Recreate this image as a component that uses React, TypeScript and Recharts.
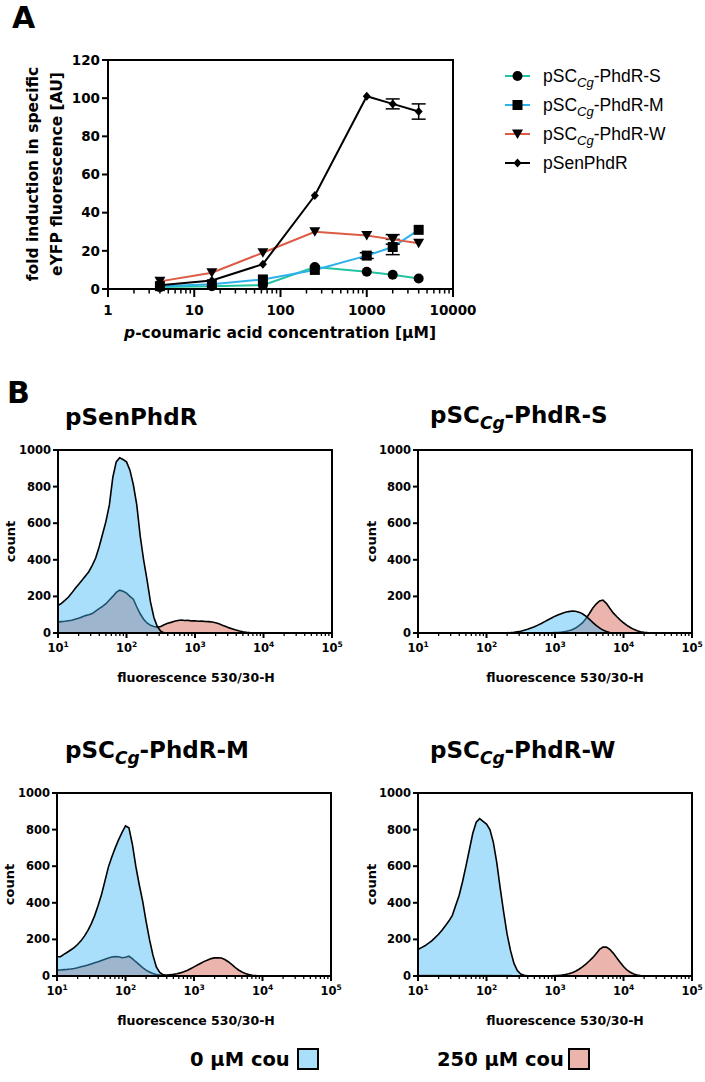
import React from 'react';
import { LineChart, Line, XAxis, YAxis, ErrorBar, AreaChart, Area, ReferenceArea } from 'recharts';

const BOLD = '"DejaVu Sans", "Liberation Sans", Arial, sans-serif';
const REG = '"Liberation Sans", Arial, sans-serif';

// ---------------- Panel A data ----------------
const concentrations = [4, 16, 62.5, 250, 1000, 2000, 4000];
const foldS = [1.0, 1.5, 2.0, 11.5, 9.0, 7.5, 5.5];
const foldM = [1.5, 2.5, 5.0, 10.0, 17.5, 22.0, 31.0];
const foldW = [4.0, 8.5, 19.0, 30.0, 28.0, 26.0, 24.0];
const foldSen = [2.0, 4.5, 13.0, 49.0, 101.0, 97.0, 93.0];
const errS = [0, 0, 0, 0, 0, 0, 0];
const errM = [0, 0, 0, 0, 1.5, 4.0, 0];
const errW = [0, 0, 0, 0, 0, 2.5, 0];
const errSen = [0, 0, 0, 0, 0, 2.6, 4.0];
const concMajorTicks = [1, 10, 100, 1000, 10000];
const concMinorTicks = [2, 3, 4, 5, 6, 7, 8, 9, 20, 30, 40, 50, 60, 70, 80, 90, 200, 300, 400, 500, 600, 700, 800, 900, 2000, 3000, 4000, 5000, 6000, 7000, 8000, 9000];
const foldTicks = [0, 20, 40, 60, 80, 100, 120];

const seriesA = [
  { key: 'S', err: 'Serr', color: '#22C3A0', shape: 'circle', prefix: 'pSC', sub: 'Cg', suffix: '-PhdR-S' },
  { key: 'M', err: 'Merr', color: '#2DB1EC', shape: 'square', prefix: 'pSC', sub: 'Cg', suffix: '-PhdR-M' },
  { key: 'W', err: 'Werr', color: '#DD5A45', shape: 'triangle', prefix: 'pSC', sub: 'Cg', suffix: '-PhdR-W' },
  { key: 'Sen', err: 'Senerr', color: '#000000', shape: 'diamond', prefix: 'pSenPhdR', sub: '', suffix: '' },
];

const lineData = concentrations.map((c, i) => ({
  conc: c,
  S: foldS[i], Serr: errS[i],
  M: foldM[i], Merr: errM[i],
  W: foldW[i], Werr: errW[i],
  Sen: foldSen[i], Senerr: errSen[i],
}));

// ---------------- Panel B data ----------------
const fluorBins = [
  10, 11.22, 12.59, 14.13, 15.85, 17.78, 19.95, 22.39, 25.12, 28.18,
  31.62, 35.48, 39.81, 44.67, 50.12, 56.23, 63.10, 70.79, 79.43, 89.13,
  100, 112.2, 125.9, 141.3, 158.5, 177.8, 199.5, 223.9, 251.2, 281.8,
  316.2, 354.8, 398.1, 446.7, 501.2, 562.3, 631.0, 707.9, 794.3, 891.3,
  1000, 1122, 1259, 1413, 1585, 1778, 1995, 2239, 2512, 2818,
  3162, 3548, 3981, 4467, 5012, 5623, 6310, 7079, 7943, 8913,
  10000, 11220, 12590, 14130, 15850, 17780, 19950, 22390, 25120, 28180,
  31620, 35480, 39810, 44670, 50120, 56230, 63100, 70790, 79430, 89130,
  100000,
];

const senPhdR0 = [
  150, 162, 178, 195, 218, 243, 265, 288, 312, 335,
  370, 410, 470, 540, 610, 700, 850, 935, 958, 948,
  935, 890, 810, 700, 530, 400, 290, 170, 85, 35,
  10, 0, 0, 0, 0, 0, 0, 0, 0, 0,
  0, 0, 0, 0, 0, 0, 0, 0, 0, 0,
  0, 0, 0, 0, 0, 0, 0, 0, 0, 0,
  0, 0, 0, 0, 0, 0, 0, 0, 0, 0,
  0, 0, 0, 0, 0, 0, 0, 0, 0, 0,
  0,
];
const senPhdR250 = [
  60, 62, 64, 67, 70, 75, 80, 88, 95, 100,
  106, 120, 133, 145, 160, 180, 200, 222, 234, 228,
  218, 200, 185, 142, 105, 75, 55, 42, 36, 32,
  36, 45, 53, 58, 64, 68, 71, 68, 69, 66,
  67, 64, 65, 63, 62, 60, 56, 50, 42, 35,
  28, 22, 16, 11, 7, 4, 2, 1, 0, 0,
  0, 0, 0, 0, 0, 0, 0, 0, 0, 0,
  0, 0, 0, 0, 0, 0, 0, 0, 0, 0,
  0,
];
const phdrS0 = [
  0, 0, 0, 0, 0, 0, 0, 0, 0, 0,
  0, 0, 0, 0, 0, 0, 0, 0, 0, 0,
  0, 0, 0, 0, 0, 0, 1, 2, 4, 7,
  10, 15, 20, 27, 34, 43, 52, 62, 72, 82,
  92, 100, 107, 113, 117, 120, 119, 114, 105, 92,
  76, 58, 42, 28, 16, 8, 3, 1, 0, 0,
  0, 0, 0, 0, 0, 0, 0, 0, 0, 0,
  0, 0, 0, 0, 0, 0, 0, 0, 0, 0,
  0,
];
const phdrS250 = [
  0, 0, 0, 0, 0, 0, 0, 0, 0, 0,
  0, 0, 0, 0, 0, 0, 0, 0, 0, 0,
  0, 0, 0, 0, 0, 0, 0, 0, 0, 0,
  0, 0, 0, 0, 0, 0, 0, 0, 0, 1,
  2, 3, 5, 8, 12, 18, 27, 40, 55, 78,
  105, 135, 158, 175, 180, 162, 135, 110, 90, 72,
  56, 42, 30, 20, 12, 7, 4, 2, 1, 0,
  0, 0, 0, 0, 0, 0, 0, 0, 0, 0,
  0,
];
const phdrM0 = [
  105, 106, 118, 130, 142, 155, 172, 192, 218, 248,
  285, 330, 385, 445, 520, 595, 650, 700, 745, 785,
  820, 810, 720, 600, 500, 410, 300, 200, 115, 50,
  20, 6, 2, 0, 0, 0, 0, 0, 0, 0,
  0, 0, 0, 0, 0, 0, 0, 0, 0, 0,
  0, 0, 0, 0, 0, 0, 0, 0, 0, 0,
  0, 0, 0, 0, 0, 0, 0, 0, 0, 0,
  0, 0, 0, 0, 0, 0, 0, 0, 0, 0,
  0,
];
const phdrM250 = [
  32, 33, 35, 36, 38, 41, 45, 50, 55, 60,
  66, 72, 78, 85, 92, 98, 104, 106, 105, 100,
  102, 108, 95, 78, 62, 46, 32, 22, 14, 8,
  5, 4, 5, 7, 9, 12, 17, 23, 30, 40,
  50, 60, 70, 80, 88, 95, 99, 100, 98, 90,
  78, 63, 47, 33, 22, 14, 8, 4, 2, 0,
  0, 0, 0, 0, 0, 0, 0, 0, 0, 0,
  0, 0, 0, 0, 0, 0, 0, 0, 0, 0,
  0,
];
const phdrW0 = [
  145, 155, 165, 178, 192, 210, 228, 250, 275, 300,
  330, 385, 440, 515, 600, 690, 780, 840, 860, 845,
  830, 800, 730, 620, 480, 350, 230, 140, 70, 30,
  11, 4, 1, 0, 0, 0, 0, 0, 0, 0,
  0, 0, 0, 0, 0, 0, 0, 0, 0, 0,
  0, 0, 0, 0, 0, 0, 0, 0, 0, 0,
  0, 0, 0, 0, 0, 0, 0, 0, 0, 0,
  0, 0, 0, 0, 0, 0, 0, 0, 0, 0,
  0,
];
const phdrW250 = [
  2, 2, 2, 2, 2, 2, 2, 2, 2, 2,
  2, 2, 2, 2, 2, 2, 2, 2, 2, 2,
  2, 2, 2, 2, 2, 2, 2, 2, 1, 1,
  0, 0, 0, 0, 0, 0, 0, 0, 0, 1,
  2, 3, 5, 8, 12, 18, 26, 37, 50, 65,
  82, 100, 122, 145, 158, 158, 145, 125, 100, 75,
  52, 33, 20, 11, 5, 2, 1, 0, 0, 0,
  0, 0, 0, 0, 0, 0, 0, 0, 0, 0,
  0,
];

const fluorMajorTicks = [10, 100, 1000, 10000, 100000];
const fluorExponents = ['1', '2', '3', '4', '5'];
const fluorMinorTicks = [
  20, 30, 40, 50, 60, 70, 80, 90,
  200, 300, 400, 500, 600, 700, 800, 900,
  2000, 3000, 4000, 5000, 6000, 7000, 8000, 9000,
  20000, 30000, 40000, 50000, 60000, 70000, 80000, 90000,
];
const countTicks = [0, 200, 400, 600, 800, 1000];

const COLOR_0_FILL = '#40B8F4';
const COLOR_0_LEGEND = '#A9DFFA';
const COLOR_250 = '#EBB5AE';

// ---------------- helpers ----------------
function Marker({ shape, cx, cy }: { shape: string; cx: number; cy: number }) {
  if (cx == null || cy == null) return null;
  switch (shape) {
    case 'circle':
      return <circle cx={cx} cy={cy} r={5} fill="#000" />;
    case 'square':
      return <rect x={cx - 5} y={cy - 5} width={10} height={10} fill="#000" />;
    case 'triangle':
      return <path d={`M${cx - 5.5},${cy - 4.5} L${cx + 5.5},${cy - 4.5} L${cx},${cy + 5} Z`} fill="#000" />;
    default:
      return <path d={`M${cx},${cy - 4.5} L${cx + 4},${cy} L${cx},${cy + 4.5} L${cx - 4},${cy} Z`} fill="#000" />;
  }
}

const ConcTick = (props: any) => {
  const { x, y, payload } = props;
  const major = concMajorTicks.includes(payload.value);
  return (
    <g>
      <line x1={x} x2={x} y1={y} y2={y + (major ? 8 : 4.5)} stroke="#000" strokeWidth={major ? 2 : 1.5} />
      {major && (
        <text x={x} y={y + 26} textAnchor="middle" fill="#000" fontSize={13.5} fontWeight={700} fontFamily={BOLD}>
          {payload.value}
        </text>
      )}
    </g>
  );
};

const FluorTick = (props: any) => {
  const { x, y, payload } = props;
  const idx = fluorMajorTicks.indexOf(payload.value);
  const major = idx >= 0;
  return (
    <g>
      <line x1={x} x2={x} y1={y} y2={y + (major ? 5 : 3)} stroke="#000" strokeWidth={major ? 2 : 1.3} />
      {major && (
        <text x={x} y={y + 19} textAnchor="middle" fill="#000" fontSize={11.5} fontWeight={700} fontFamily={BOLD}>
          10
          <tspan dy={-5} fontSize={7.5}>{fluorExponents[idx]}</tspan>
        </text>
      )}
    </g>
  );
};

function Histogram({ left, top, yw, cou0, cou250 }: { left: number; top: number; yw: number; cou0: number[]; cou250: number[] }) {
  const data = fluorBins.map((x, i) => ({ x, c0: cou0[i] ?? 0, c250: cou250[i] ?? 0 }));
  const plotW = 274;
  return (
    <div style={{ position: 'absolute', left, top }}>
      <AreaChart width={345} height={220} data={data} margin={{ top: 10, right: 345 - yw - plotW, bottom: 0, left: 0 }}>
        <XAxis
          dataKey="x"
          type="number"
          scale="log"
          domain={[10, 100000]}
          allowDataOverflow
          ticks={[...fluorMajorTicks, ...fluorMinorTicks]}
          interval={0}
          tickSize={0}
          tickMargin={0}
          tickLine={false}
          tick={<FluorTick />}
          axisLine={{ stroke: '#000', strokeWidth: 2 }}
          height={27}
        />
        <YAxis
          type="number"
          domain={[0, 1000]}
          ticks={countTicks}
          interval={0}
          width={yw}
          tickSize={5}
          tickMargin={2}
          tickLine={{ stroke: '#000', strokeWidth: 2 }}
          axisLine={{ stroke: '#000', strokeWidth: 2 }}
          tick={{ fill: '#000', fontSize: 11.5, fontWeight: 700, fontFamily: BOLD }}
        />
        <Area type="linear" dataKey="c250" stroke="#000" strokeWidth={1.6} fill={COLOR_250} fillOpacity={1} isAnimationActive={false} dot={false} activeDot={false} />
        <Area type="linear" dataKey="c0" stroke="#000" strokeWidth={1.6} fill={COLOR_0_FILL} fillOpacity={0.45} isAnimationActive={false} dot={false} activeDot={false} />
        <ReferenceArea x1={10} x2={100000} y1={0} y2={1000} fill="none" fillOpacity={0} stroke="#000" strokeWidth={2} />
      </AreaChart>
    </div>
  );
}

function SubTitle({ x, y, prefix, sub, suffix, size, subSize, bold, family }: any) {
  return (
    <text x={x} y={y} fontSize={size} fontWeight={bold ? 700 : 400} fontFamily={family} fill="#000">
      {prefix}
      {sub ? (
        <>
          <tspan fontStyle="italic" fontSize={subSize} dy={size * 0.27}>{sub}</tspan>
          <tspan fontSize={size} dy={-size * 0.27}>{suffix}</tspan>
        </>
      ) : null}
    </text>
  );
}

export default function App() {
  return (
    <div style={{ position: 'absolute', left: 0, top: 0, width: 705, height: 1082, background: '#fff', overflow: 'hidden' }}>
      {/* Panel A */}
      <div style={{ position: 'absolute', left: 0, top: 0 }}>
        <LineChart width={495} height={330} data={lineData} margin={{ top: 60, right: 42, bottom: 0, left: 0 }}>
          <XAxis
            dataKey="conc"
            type="number"
            scale="log"
            domain={[1, 10000]}
            allowDataOverflow
            ticks={[...concMajorTicks, ...concMinorTicks]}
            interval={0}
            tickSize={0}
            tickMargin={0}
            tickLine={false}
            tick={<ConcTick />}
            axisLine={{ stroke: '#000', strokeWidth: 2 }}
            height={41}
          />
          <YAxis
            type="number"
            domain={[0, 120]}
            ticks={foldTicks}
            interval={0}
            width={108}
            tickSize={6}
            tickMargin={2}
            tickLine={{ stroke: '#000', strokeWidth: 2 }}
            axisLine={{ stroke: '#000', strokeWidth: 2 }}
            tick={{ fill: '#000', fontSize: 13.5, fontWeight: 700, fontFamily: BOLD }}
          />
          <ReferenceArea x1={1} x2={10000} y1={0} y2={120} fill="none" fillOpacity={0} stroke="#000" strokeWidth={2} />
          {seriesA.map((s) => (
            <Line
              key={s.key}
              type="linear"
              dataKey={s.key}
              stroke={s.color}
              strokeWidth={2}
              isAnimationActive={false}
              activeDot={false}
              dot={(p: any) => <Marker key={`${s.key}-${p.index}`} shape={s.shape} cx={p.cx} cy={p.cy} />}
            >
              <ErrorBar dataKey={s.err} width={7} strokeWidth={1.5} stroke="#000" direction="y" isAnimationActive={false} />
            </Line>
          ))}
        </LineChart>
      </div>

      {/* Panel B */}
      <Histogram left={0} top={440} yw={58} cou0={senPhdR0} cou250={senPhdR250} />
      <Histogram left={360} top={440} yw={58} cou0={phdrS0} cou250={phdrS250} />
      <Histogram left={0} top={783} yw={57} cou0={phdrM0} cou250={phdrM250} />
      <Histogram left={360} top={783} yw={58} cou0={phdrW0} cou250={phdrW250} />

      {/* Text overlay */}
      <svg width={705} height={1082} style={{ position: 'absolute', left: 0, top: 0, pointerEvents: 'none' }}>
        <text x={12} y={28} fontSize={30} fontWeight={700} fontFamily={BOLD} fill="#000">A</text>
        <text x={7} y={403} fontSize={30} fontWeight={700} fontFamily={BOLD} fill="#000">B</text>

        {/* Panel A axis titles */}
        <text transform="translate(38,174) rotate(-90)" textAnchor="middle" fontSize={15.5} fontWeight={700} fontFamily={BOLD} fill="#000">
          fold induction in specific
        </text>
        <text transform="translate(61.5,174) rotate(-90)" textAnchor="middle" fontSize={15.5} fontWeight={700} fontFamily={BOLD} fill="#000">
          eYFP fluorescence [AU]
        </text>
        <text x={280} y={338} textAnchor="middle" fontSize={15.5} fontWeight={700} fontFamily={BOLD} fill="#000">
          <tspan fontStyle="italic">p</tspan>-coumaric acid concentration [µM]
        </text>

        {/* Panel A legend */}
        {seriesA.map((s, i) => {
          const cy = 76 + i * 29;
          return (
            <g key={s.key}>
              <line x1={505} x2={530} y1={cy} y2={cy} stroke={s.color} strokeWidth={2} />
              <Marker shape={s.shape} cx={517.5} cy={cy} />
              <SubTitle x={543} y={cy + 6} prefix={s.prefix} sub={s.sub} suffix={s.suffix} size={17.5} subSize={13} bold={false} family={REG} />
            </g>
          );
        })}

        {/* Panel B titles */}
        <SubTitle x={65} y={425} prefix="pSenPhdR" sub="" suffix="" size={23} subSize={17} bold family={BOLD} />
        <SubTitle x={430} y={423} prefix="pSC" sub="Cg" suffix="-PhdR-S" size={23} subSize={17} bold family={BOLD} />
        <SubTitle x={65} y={758} prefix="pSC" sub="Cg" suffix="-PhdR-M" size={23} subSize={17} bold family={BOLD} />
        <SubTitle x={430} y={758} prefix="pSC" sub="Cg" suffix="-PhdR-W" size={23} subSize={17} bold family={BOLD} />

        {/* Histogram axis titles */}
        {[
          { cx: 15, cy: 541.5 },
          { cx: 376, cy: 541.5 },
          { cx: 14, cy: 884.5 },
          { cx: 376, cy: 884.5 },
        ].map((p, i) => (
          <text key={`c${i}`} transform={`translate(${p.cx},${p.cy}) rotate(-90)`} textAnchor="middle" fontSize={13} fontWeight={700} fontFamily={BOLD} fill="#000">
            count
          </text>
        ))}
        {[
          { x: 196, y: 682 },
          { x: 565, y: 682 },
          { x: 196, y: 1025 },
          { x: 565, y: 1025 },
        ].map((p, i) => (
          <text key={`f${i}`} x={p.x} y={p.y} textAnchor="middle" fontSize={12.5} fontWeight={700} fontFamily={BOLD} fill="#000">
            fluorescence 530/30-H
          </text>
        ))}

        {/* Bottom legend */}
        <text x={190} y={1066} fontSize={19.5} fontWeight={700} fontFamily={BOLD} fill="#000">0 µM cou</text>
        <rect x={298} y={1049} width={20} height={20} fill={COLOR_0_LEGEND} stroke="#000" strokeWidth={2} />
        <text x={437} y={1066} fontSize={19.5} fontWeight={700} fontFamily={BOLD} fill="#000">250 µM cou</text>
        <rect x={569} y={1049} width={20} height={20} fill={COLOR_250} stroke="#000" strokeWidth={2} />
      </svg>
    </div>
  );
}
